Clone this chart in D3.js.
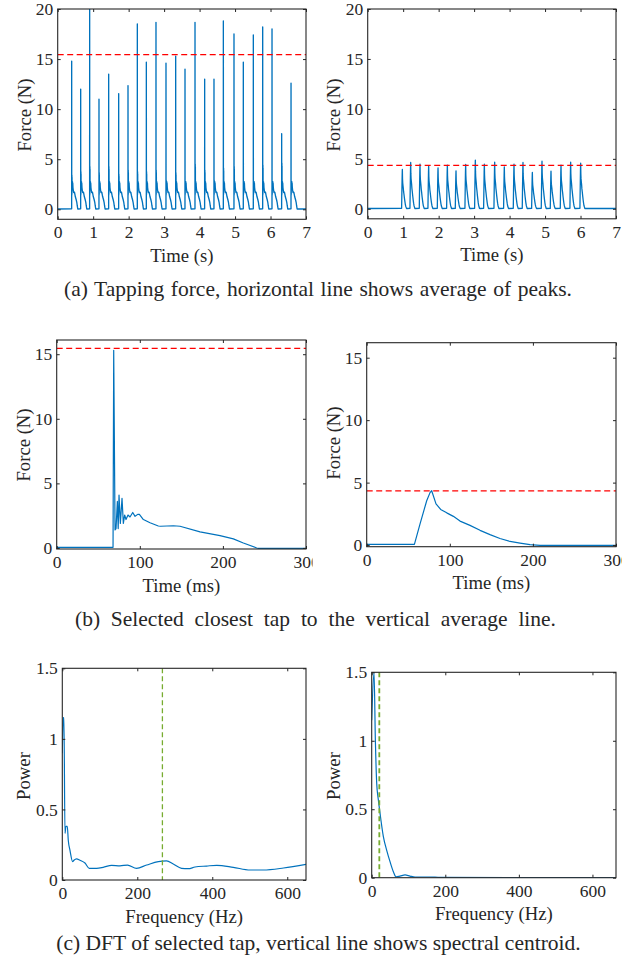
<!DOCTYPE html>
<html><head><meta charset="utf-8">
<script src="https://cdn.jsdelivr.net/npm/d3@7"></script>
<style>
body{margin:0;background:#fff;}
svg{display:block;}
text{font-family:"Liberation Serif","Times New Roman",serif;fill:#262626;}
</style>
</head><body>
<script>
// ---------- DATA ----------
// (a) left: tapping force, tap peak times (s), peak forces (N), secondary ringing heights (N)
const tapTimesA = [0.394,0.648,0.901,1.164,1.437,1.719,1.982,2.245,2.499,2.771,3.053,3.326,3.589,3.871,4.143,4.406,4.670,4.970,5.233,5.515,5.779,6.042,6.314,6.578];
const tapPeaksA = [14.8,12.0,20.0,11.0,13.5,11.55,12.35,18.5,14.7,18.67,14.6,15.3,14.0,18.67,13.0,13.0,18.8,17.5,14.7,17.4,18.2,18.0,7.55,12.6];
const tapBumpsA = [3.4,3.76,4.26,3.66,4.26,3.5,3.9,3.76,3.76,3.9,2.9,3.66,2.76,4.5,3.9,2.9,4.1,4.26,2.76,2.43,4.4,2.43,4.6,2.66];
const avgPeakA = 15.45;
// (a) right
const tapTimesB = [0.977,1.212,1.475,1.719,1.983,2.246,2.490,2.762,3.035,3.289,3.580,3.852,4.125,4.378,4.642,4.914,5.168,5.450,5.722,6.004];
const tapPeaksB = [3.94,4.64,4.47,4.27,4.1,4.37,3.8,4.44,4.87,4.47,4.67,4.2,4.47,4.64,3.64,4.77,3.77,4.37,4.67,4.57];
const avgPeakB = 4.34;
// (b) left: selected tap (ms, N)
const selTapA_ms = [0,67.8,68.6,70.2,71.4,73.0,74.0,75.0,76.6,78.6,80.2,81.8,83.4,85.8,88.2,91.5,94.3,97.5,99.5,104.3,112.3,122.3,125,140.4,148.4,172.5,196.5,212.6,224.6,240.7,243,300];
const selTapA_N  = [0.05,0.05,15.3,1.4,1.5,3.6,1.5,4.1,1.9,3.85,1.9,2.55,2.2,2.55,2.4,2.75,2.45,2.6,2.6,2.2,1.95,1.7,1.68,1.72,1.68,1.25,0.95,0.7,0.38,0.0,-0.03,-0.03];
// (b) right: selected tap (ms, N)
const selTapB_ms = [0,57.4,64.2,72.2,76.2,78.2,83.4,89,96.3,104.3,112.3,124.3,136.4,148.4,160.4,172.5,184.5,196.5,208.6,300];
const selTapB_N  = [0.05,0.05,1.7,3.55,4.2,4.35,3.3,2.85,2.58,2.3,1.92,1.58,1.18,0.84,0.53,0.29,0.16,0.03,-0.03,-0.03];
// (c) left: DFT power
const specA_Hz = [0,2.7,4.4,7.1,9.8,13.3,16,20.5,27.6,31,38,47,60.5,72,91.6,109,131.6,153.8,174,198,225,256,278,296,318,336,354,385,412,456,501,536,590,650];
const specA_P  = [0.898,1.15,1.15,0.33,0.38,0.38,0.28,0.21,0.13,0.14,0.15,0.14,0.12,0.083,0.083,0.09,0.104,0.10,0.106,0.083,0.106,0.13,0.135,0.113,0.083,0.08,0.092,0.099,0.104,0.09,0.071,0.071,0.085,0.111];
const centroidA = 267;
// (c) right: DFT power
const specB_Hz = [0,6.3,10,13.6,18,22.7,31.7,40.8,49.8,58.9,66,77,90.6,104,118,140,158,186,664];
const specB_P  = [1.15,1.5,1.0,0.69,0.57,0.47,0.30,0.20,0.117,0.044,0.007,0.012,0.02,0.012,0.005,0.005,0.005,0.002,0];
const centroidB = 20.7;
// tick values
const timeTicksS = [0,1,2,3,4,5,6,7];
const forceTicksA = [0,5,10,15,20];
const timeTicksMs = [0,100,200,300];
const forceTicksB = [0,5,10,15];
const freqTicks = [0,200,400,600];
const powerTicks = [0,0.5,1,1.5];
const captions = [
  "(a) Tapping force, horizontal line shows average of peaks.",
  "(b) Selected closest tap to the vertical average line.",
  "(c) DFT of selected tap, vertical line shows spectral centroid."
];

// ---------- build tap trains from read values ----------
function trainA(){
  const pk = 2; // index of peak in selected tap template
  const pts = [[0,0.03]];
  tapTimesA.forEach((t,i)=>{
    for(let j=1;j<selTapA_ms.length-1;j++){
      let v = selTapA_N[j];
      if(j===pk) v = tapPeaksA[i];
      else if(selTapA_ms[j]>70 && selTapA_ms[j]<82 && v>3) v = v*tapBumpsA[i]/4.1;
      pts.push([t+(selTapA_ms[j]-selTapA_ms[pk])/1000, Math.max(v,0.03)]);
    }
  });
  pts.push([7,0.03]);
  return pts;
}
function trainB(){
  const pk = 5;
  const pts = [[0,0.03]];
  tapTimesB.forEach((t,i)=>{
    for(let j=1;j<selTapB_ms.length-1;j++){
      const v = selTapB_N[j]*tapPeaksB[i]/selTapB_N[pk];
      pts.push([t+(selTapB_ms[j]-selTapB_ms[pk])/1000, Math.max(v,0.03)]);
    }
  });
  pts.push([7,0.03]);
  return pts;
}

// ---------- DRAW ----------
const svg = d3.select("body").append("svg").attr("width",641).attr("height",965);
const AX = "#262626", BLUE = "#0072BD", RED = "#FF0000", GREEN = "#77AC30";

function panel(p){
  const x = d3.scaleLinear().domain(p.xDomain).range([p.l,p.r]);
  const y = d3.scaleLinear().domain(p.yDomain).range([p.b,p.t]);
  const cid = "c"+p.id;
  svg.append("clipPath").attr("id",cid).append("rect")
    .attr("x",p.l).attr("y",p.t).attr("width",p.r-p.l).attr("height",p.b-p.t);
  const g = svg.append("g");
  const plot = g.append("g").attr("clip-path",`url(#${cid})`);
  plot.append("path").datum(p.series)
    .attr("fill","none").attr("stroke",BLUE).attr("stroke-width",p.lw||1.2)
    .attr("stroke-linejoin","round")
    .attr("d", d3.line().x(d=>x(d[0])).y(d=>y(d[1])).curve(p.curve||d3.curveLinear));
  if(p.hline!==undefined){
    plot.append("line").attr("x1",p.l).attr("x2",p.r).attr("y1",y(p.hline)).attr("y2",y(p.hline))
      .attr("stroke",RED).attr("stroke-width",1.3).attr("stroke-dasharray","6,3.5");
  }
  if(p.vline!==undefined){
    plot.append("line").attr("x1",x(p.vline)).attr("x2",x(p.vline)).attr("y1",p.t).attr("y2",p.b)
      .attr("stroke",GREEN).attr("stroke-width",p.vlw||1.3).attr("stroke-dasharray","5,3");
  }
  const tl = 3;
  const fmt = d3.format("");
  // bottom (clip in the axis group's local coordinates)
  const cidx = "cx"+p.id;
  svg.append("clipPath").attr("id",cidx).append("rect").attr("x",p.l-40).attr("y",-10).attr("width",p.clipR-(p.l-40)).attr("height",40);
  const gb = g.append("g").attr("transform",`translate(0,${p.b})`).attr("clip-path",`url(#${cidx})`)
    .call(d3.axisBottom(x).tickValues(p.xTicks).tickSizeInner(-tl).tickSizeOuter(0).tickPadding(6.5).tickFormat(fmt));
  const gt = g.append("g").attr("transform",`translate(0,${p.t})`)
    .call(d3.axisTop(x).tickValues(p.xTicks).tickSizeInner(-tl).tickSizeOuter(0).tickFormat(""));
  const gl = g.append("g").attr("transform",`translate(${p.l},0)`)
    .call(d3.axisLeft(y).tickValues(p.yTicks).tickSizeInner(-tl).tickSizeOuter(0).tickPadding(4.5).tickFormat(fmt));
  const gr = g.append("g").attr("transform",`translate(${p.r},0)`)
    .call(d3.axisRight(y).tickValues(p.yTicks).tickSizeInner(-tl).tickSizeOuter(0).tickFormat(""));
  [gb,gt,gl,gr].forEach(a=>{
    a.select(".domain").remove();
    a.selectAll("line").attr("stroke",AX).attr("stroke-width",1);
    a.selectAll("text").attr("font-family",'"Liberation Serif",serif').attr("font-size",17.5).attr("fill",AX);
  });
  g.append("rect").attr("x",p.l).attr("y",p.t).attr("width",p.r-p.l).attr("height",p.b-p.t)
    .attr("fill","none").attr("stroke",AX).attr("stroke-width",1.1);
  g.append("text").attr("x",(p.l+p.r)/2+p.xlDx).attr("y",p.b+42.5).attr("text-anchor","middle")
    .attr("font-size",18.7).text(p.xLabel);
  g.append("text").attr("transform",`translate(${p.ylX},${p.ylY}) rotate(-90)`).attr("text-anchor","middle")
    .attr("dy","0.33em").attr("font-size",18.7).text(p.yLabel);
}

panel({id:1,l:57.7,r:306,t:9,b:219.3,xDomain:[0,7],yDomain:[-1,20],xTicks:timeTicksS,yTicks:forceTicksA,lw:1.35,
  series:trainA(),hline:avgPeakA,xLabel:"Time (s)",yLabel:"Force (N)",xlDx:0,ylX:25,ylY:115,clipR:641});
panel({id:2,l:367.7,r:616,t:9,b:218.8,xDomain:[0,7],yDomain:[-1,20],xTicks:timeTicksS,yTicks:forceTicksA,lw:1.3,
  series:trainB(),hline:avgPeakB,xLabel:"Time (s)",yLabel:"Force (N)",xlDx:0,ylX:334,ylY:115,clipR:641});
panel({id:3,l:56.7,r:306,t:340,b:549,xDomain:[0,300],yDomain:[-0.08,16.1],xTicks:timeTicksMs,yTicks:forceTicksB,
  series:selTapA_ms.map((m,i)=>[m,selTapA_N[i]]),hline:avgPeakA,xLabel:"Time (ms)",yLabel:"Force (N)",xlDx:0,ylX:24,ylY:445,clipR:312.5});
panel({id:4,l:366.7,r:616,t:342.7,b:546.7,xDomain:[0,300],yDomain:[-0.13,16.2],xTicks:timeTicksMs,yTicks:forceTicksB,
  series:selTapB_ms.map((m,i)=>[m,selTapB_N[i]]),hline:avgPeakB,xLabel:"Time (ms)",yLabel:"Force (N)",xlDx:0,ylX:334,ylY:443,clipR:622});
panel({id:5,l:62.3,r:306,t:668.3,b:880,xDomain:[0,650],yDomain:[0,1.5],xTicks:freqTicks,yTicks:powerTicks,
  series:specA_Hz.map((f,i)=>[f,specA_P[i]]),vline:centroidA,xLabel:"Frequency (Hz)",yLabel:"Power",xlDx:0,ylX:24,ylY:776,clipR:641,curve:d3.curveMonotoneX});
panel({id:6,l:371.7,r:616,t:672.3,b:877.7,xDomain:[0,664],yDomain:[0,1.5],xTicks:freqTicks,yTicks:powerTicks,
  series:specB_Hz.map((f,i)=>[f,specB_P[i]]),vline:centroidB,vlw:1.8,xLabel:"Frequency (Hz)",yLabel:"Power",xlDx:0,ylX:334,ylY:776,clipR:641,curve:d3.curveMonotoneX});

// captions
const capPos = [[318,296,508],[315.5,626,481],[318.5,950,505]];
captions.forEach((c,i)=>{
  const t = svg.append("text").attr("x",capPos[i][0]).attr("y",capPos[i][1]).attr("text-anchor","middle")
    .attr("font-size",21.5).text(c);
  const w = t.node().getComputedTextLength();
  const spaces = (c.match(/ /g)||[]).length;
  const extra = capPos[i][2]-w;
  if(extra>4) t.attr("word-spacing",(extra/spaces).toFixed(2));
});
</script>
</body></html>
